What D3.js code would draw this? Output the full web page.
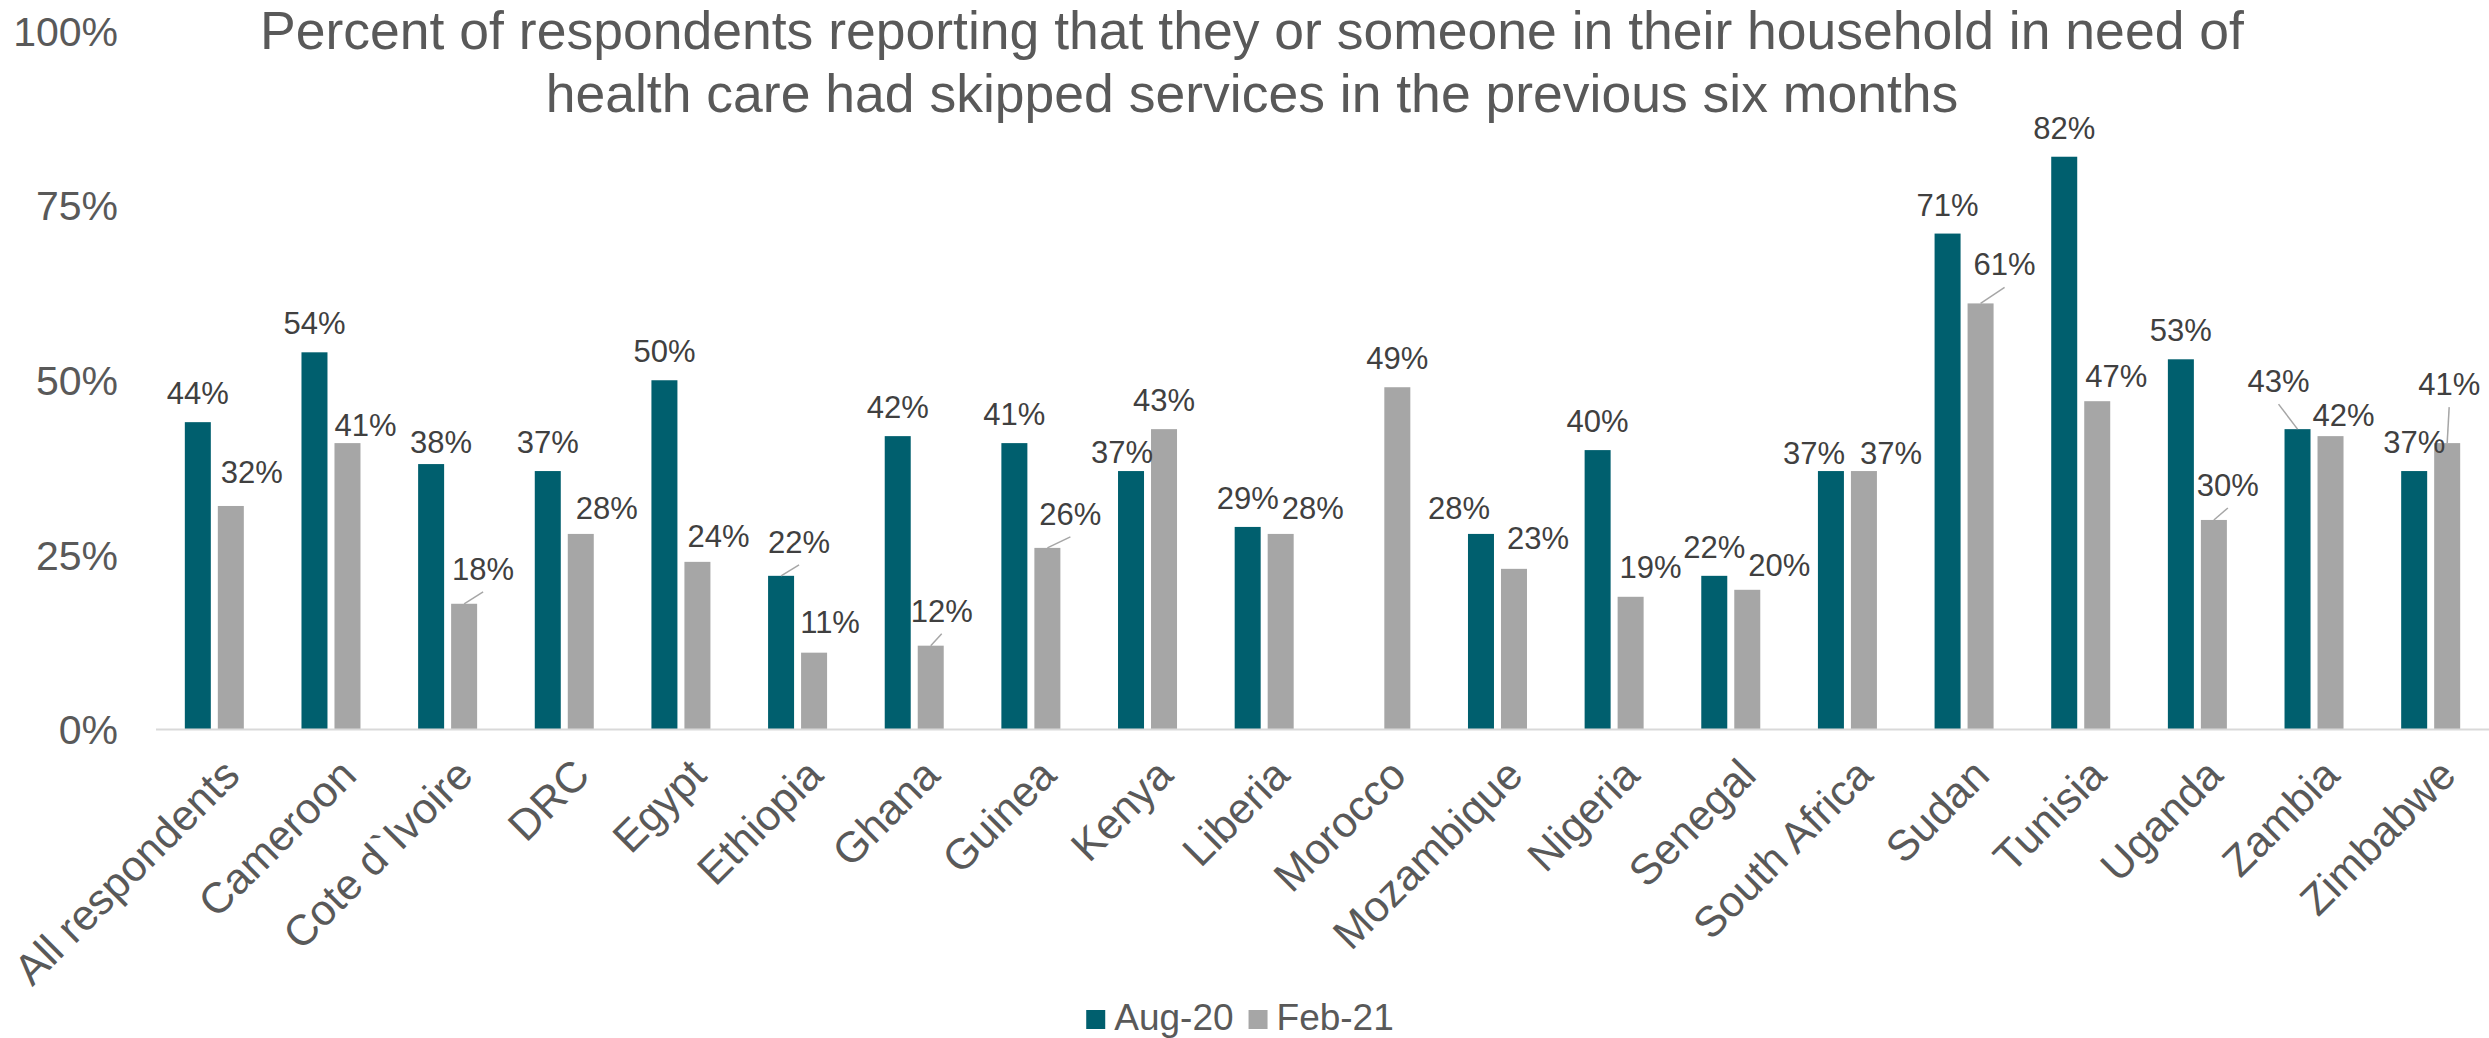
<!DOCTYPE html>
<html>
<head>
<meta charset="utf-8">
<script src="https://cdn.jsdelivr.net/npm/d3@7"></script>
<style>
  html, body { margin: 0; padding: 0; background: #ffffff; }
  svg { display: block; font-family: "Liberation Sans", Arial, sans-serif; }
</style>
</head>
<body>
<svg id="chart" width="2489" height="1038"></svg>
<script>
// ---- data ----
const categories = ["All respondents", "Cameroon", "Cote d`Ivoire", "DRC", "Egypt", "Ethiopia",
  "Ghana", "Guinea", "Kenya", "Liberia", "Morocco", "Mozambique", "Nigeria", "Senegal",
  "South Africa", "Sudan", "Tunisia", "Uganda", "Zambia", "Zimbabwe"];
const seriesNames = ["Aug-20", "Feb-21"];
const aug20 = [44, 54, 38, 37, 50, 22, 42, 41, 37, 29, null, 28, 40, 22, 37, 71, 82, 53, 43, 37];
const feb21 = [32, 41, 18, 28, 24, 11, 12, 26, 43, 28, 49, 23, 19, 20, 37, 61, 47, 30, 42, 41];
const yTicks = [0, 25, 50, 75, 100];
const titleLines = [
  "Percent of respondents reporting that they or someone in their household in need of",
  "health care had skipped services in the previous six months"
];

// ---- hand-placed data label nudges [dx, dy, leader line] ----
const nudgeAug = [[0,0],[0,0],[10,7],[0,0],[0,0],[18,-5,1],[0,0],[0,0],[-9,10],[0,0],
  [0,0],[-22,3],[0,0],[0,0],[-17,11],[0,0],[0,0],[0,0],[-19,-19,1],[0,0]];
const nudgeFeb = [[21,-5],[18,11],[19,-6,1],[26,3],[21,3],[16,-2],[11,-6,1],[23,-5,1],[0,0],[32,3],
  [0,0],[24,-2],[20,-1],[32,4],[27,11],[24,-10,1],[19,4],[14,-6,1],[13,8],[2,-30,1]];

// ---- styles ----
const colors = { "Aug-20": "#005f6e", "Feb-21": "#a6a6a6" };
const textGrey = "#595959";
const labelGrey = "#404040";

const svg = d3.select("#chart");
const plot = { left: 156, right: 2489, top: 31, bottom: 729.5 };

const x = d3.scaleBand().domain(categories).range([plot.left, plot.right]).padding(0);
const step = x.bandwidth();
const xs = d3.scaleBand().domain(seriesNames)
  .range([step / 2 - 29.5, step / 2 + 29.5]).paddingInner(7 / 33).paddingOuter(0);
const y = d3.scaleLinear().domain([0, 100]).range([plot.bottom, plot.top]);

// title
const title = svg.append("text")
  .attr("x", 1252).attr("y", 49)
  .attr("text-anchor", "middle")
  .attr("fill", textGrey)
  .style("font-size", "53.5px");
titleLines.forEach((t, i) => {
  title.append("tspan").attr("x", 1252).attr("dy", i === 0 ? 0 : 63).text(t);
});

// y axis labels (no line, no gridlines)
const yAxis = d3.axisLeft(y).tickValues(yTicks).tickFormat(d => d + "%").tickSize(0).tickPadding(0);
const yg = svg.append("g").attr("transform", "translate(118,0)").call(yAxis);
yg.select(".domain").remove();
yg.selectAll("text")
  .attr("fill", textGrey)
  .attr("dy", "0.35em")
  .style("font-size", "41px")
  .style("font-family", "'Liberation Sans', Arial, sans-serif");

// bars
const rows = categories.map((c, i) => ({ cat: c, i, vals: [
  { s: "Aug-20", v: aug20[i], n: nudgeAug[i] },
  { s: "Feb-21", v: feb21[i], n: nudgeFeb[i] }
]}));

const groups = svg.append("g").selectAll("g").data(rows).join("g")
  .attr("transform", d => `translate(${x(d.cat)},0)`);

groups.selectAll("rect").data(d => d.vals.filter(v => v.v != null)).join("rect")
  .attr("x", d => xs(d.s))
  .attr("width", xs.bandwidth())
  .attr("y", d => y(d.v))
  .attr("height", d => y(0) - y(d.v))
  .attr("fill", d => colors[d.s]);

// x axis line
svg.append("line")
  .attr("x1", plot.left).attr("x2", plot.right)
  .attr("y1", y(0)).attr("y2", y(0))
  .attr("stroke", "#d9d9d9").attr("stroke-width", 2);

// data labels with leader lines
const labelG = groups.selectAll("g.lbl").data(d => d.vals.filter(v => v.v != null)).join("g").attr("class", "lbl");
labelG.each(function(d) {
  const g = d3.select(this);
  const cx = xs(d.s) + xs.bandwidth() / 2;
  const top = y(d.v);
  const lx = cx + d.n[0];
  const ly = top - 18 + d.n[1];
  if (d.n[2]) {
    g.append("line")
      .attr("x1", cx).attr("y1", top)
      .attr("x2", lx).attr("y2", ly + 12)
      .attr("stroke", "#a6a6a6").attr("stroke-width", 1.5);
  }
  g.append("text")
    .attr("x", lx).attr("y", ly)
    .attr("text-anchor", "middle")
    .attr("fill", labelGrey)
    .style("font-size", "31px")
    .text(d.v + "%");
});

// rotated category labels
svg.append("g").selectAll("text").data(categories).join("text")
  .attr("transform", d => `translate(${x(d) + step / 2 + 6},756) rotate(-45)`)
  .attr("text-anchor", "end")
  .attr("dy", "0.71em")
  .attr("fill", textGrey)
  .style("font-size", "43px")
  .text(d => d);

// legend
const legend = svg.append("g");
let lxPos = 0;
seriesNames.forEach(s => {
  const g = legend.append("g").attr("transform", `translate(${lxPos},0)`);
  g.append("rect").attr("x", 0).attr("y", -20).attr("width", 19).attr("height", 19).attr("fill", colors[s]);
  const t = g.append("text").attr("x", 28).attr("y", 0).attr("fill", textGrey)
    .style("font-size", "37px").text(s);
  const w = t.node().getComputedTextLength();
  lxPos += 28 + w + 15;
});
const legendWidth = lxPos - 15;
legend.attr("transform", `translate(${1240 - legendWidth / 2},1030)`);
</script>
</body>
</html>
